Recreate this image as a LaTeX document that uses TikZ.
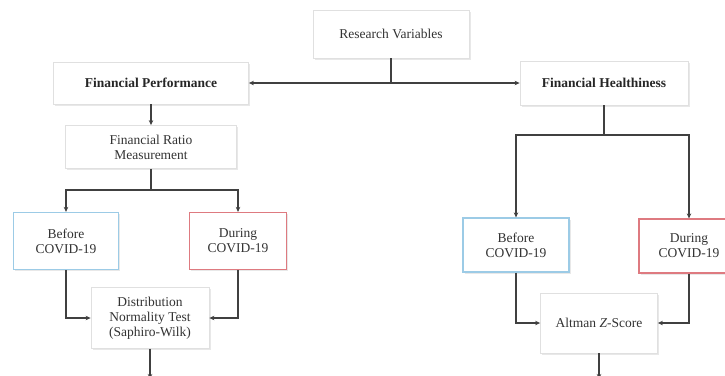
\documentclass[tikz,border=0pt]{standalone}
\usepackage{fontspec}
\setmainfont{Liberation Serif}
\usepackage{xcolor}
\usepackage{tikz}
\usetikzlibrary{calc,shapes,positioning,arrows.meta,shadows}

\definecolor{beforeblue}{HTML}{9CCBE6}
\definecolor{duringred}{HTML}{DE7A80}

\begin{document}
\begin{tikzpicture}[
    x=1pt, y=-1pt,
    box/.style={rectangle, draw=black!12, line width=0.8pt, fill=white, align=center,
        text=black!80, font=\fontsize{13.5}{15}\selectfont, inner sep=2pt,
        drop shadow={opacity=0.18, shadow xshift=1.5pt, shadow yshift=-1.5pt}},
    head/.style={box, font=\fontsize{13.5}{15}\selectfont\bfseries, text=black!85},
    before/.style={box, draw=beforeblue, line width=1.2pt},
    during/.style={box, draw=duringred, line width=1.2pt},
    link/.style={draw=black!75, line width=1.4pt},
    arrow/.style={link, -{Stealth[length=5pt,width=4.5pt]}}
]
    \useasboundingbox[fill=white] (0,0) rectangle (725,375);

    % Root node
    \node[box, minimum width=156pt, minimum height=48pt] (vars) at (391,34) {Research Variables};

    % Two branches
    \node[head, minimum width=195pt, minimum height=42pt] (perf) at (151,83) {Financial Performance};
    \node[head, minimum width=168pt, minimum height=44pt] (health) at (604,83) {Financial Healthiness};

    % Left branch
    \node[box, minimum width=171pt, minimum height=43pt] (ratio) at (151,147) {Financial Ratio\\Measurement};
    \node[before, minimum width=105pt, minimum height=57pt] (before1) at (66,241) {Before\\COVID-19};
    \node[during, minimum width=97pt, minimum height=57pt] (during1) at (238,241) {During\\COVID-19};
    \node[box, minimum width=118pt, minimum height=61pt] (normal) at (150,318) {Distribution\\Normality Test\\(Saphiro-Wilk)};

    % Right branch
    \node[before, minimum width=106pt, minimum height=54pt] (before2) at (516,245) {Before\\COVID-19};
    \node[during, minimum width=100pt, minimum height=54pt] (during2) at (689,246) {During\\COVID-19};
    \node[box, minimum width=117pt, minimum height=60pt] (altman) at (599,323) {Altman \textit{Z}-Score};

    % Junctions and loose ends
    \coordinate (split0) at (vars.south |- perf.east);
    \coordinate (split1) at (ratio.south |- 0,190);
    \coordinate (split2) at (health.south |- 0,135);
    \coordinate (end1) at (normal.south |- 0,379);
    \coordinate (end2) at (altman.south |- 0,379);

    % Draw connections
    \draw[link] (vars.south) -- (split0);
    \draw[arrow] (split0) -- (perf.east);
    \draw[arrow] (split0) -- (health.west);

    \draw[arrow] (perf.south) -- (ratio.north);
    \draw[link] (ratio.south) -- (split1);
    \draw[arrow] (split1) -| (before1.north);
    \draw[arrow] (split1) -| (during1.north);
    \draw[arrow] (before1.south) |- (normal.west);
    \draw[arrow] (during1.south) |- (normal.east);
    \draw[arrow] (normal.south) -- (end1);

    \draw[link] (health.south) -- (split2);
    \draw[arrow] (split2) -| (before2.north);
    \draw[arrow] (split2) -| (during2.north);
    \draw[arrow] (before2.south) |- (altman.west);
    \draw[arrow] (during2.south) |- (altman.east);
    \draw[arrow] (altman.south) -- (end2);
\end{tikzpicture}
\end{document}
